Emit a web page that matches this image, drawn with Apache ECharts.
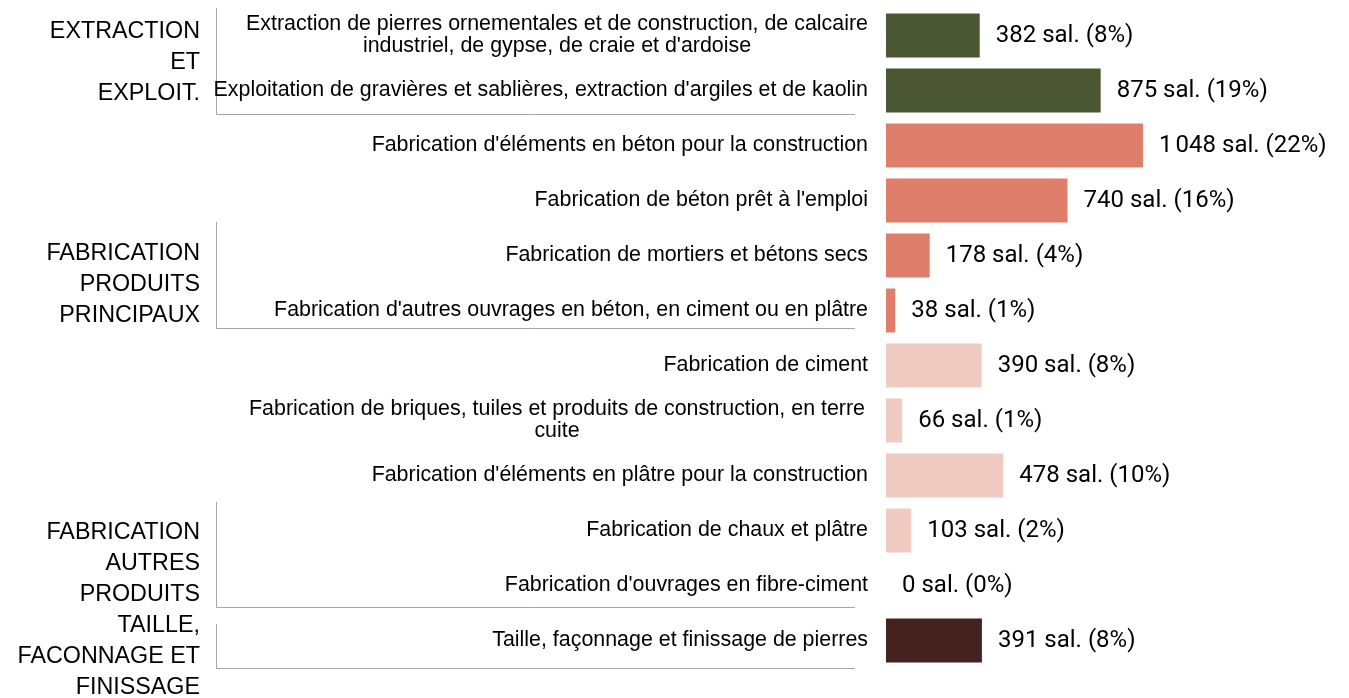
<!DOCTYPE html>
<html>
<head>
<meta charset="utf-8">
<script src="https://cdn.jsdelivr.net/npm/echarts@6/dist/echarts.min.js"></script>
<style>
  html, body { margin: 0; padding: 0; background: #fff; }
  #chart { width: 1349px; height: 698px; }
</style>
</head>
<body>
<div id="chart"></div>
<script>
const categories = [
  "Extraction de pierres ornementales et de construction, de calcaire\nindustriel, de gypse, de craie et d'ardoise",
  "Exploitation de gravières et sablières, extraction d'argiles et de kaolin",
  "Fabrication d'éléments en béton pour la construction",
  "Fabrication de béton prêt à l'emploi",
  "Fabrication de mortiers et bétons secs",
  "Fabrication d'autres ouvrages en béton, en ciment ou en plâtre",
  "Fabrication de ciment",
  "Fabrication de briques, tuiles et produits de construction, en terre\ncuite",
  "Fabrication d'éléments en plâtre pour la construction",
  "Fabrication de chaux et plâtre",
  "Fabrication d'ouvrages en fibre-ciment",
  "Taille, façonnage et finissage de pierres"
];
const values = [382, 875, 1048, 740, 178, 38, 390, 66, 478, 103, 0, 391];
const percents = [8, 19, 22, 16, 4, 1, 8, 1, 10, 2, 0, 8];
const rowGroup = [0, 0, 1, 1, 1, 1, 2, 2, 2, 2, 2, 3];
const groupNames = [
  "EXTRACTION\nET\nEXPLOIT.",
  "FABRICATION\nPRODUITS\nPRINCIPAUX",
  "FABRICATION\nAUTRES\nPRODUITS",
  "TAILLE,\nFACONNAGE ET\nFINISSAGE"
];

const groupColors = ['#4b5733', '#df7e6b', '#f1cbc2', '#432220'];
// bracket decorations (pixel layout, not data): top, bottom of the line, label centre
const groupLayout = [
  { top: 8, bottom: 114, label: 63 },
  { top: 222, bottom: 328, label: 285 },
  { top: 502, bottom: 607, label: 564 },
  { top: 624, bottom: 668, label: 657 }
];

const fmt = (n) => String(n).replace(/\B(?=(\d{3})+(?!\d))/g, '\u202f');
const labelFont = '"Liberation Sans", Arial, sans-serif';

const chart = echarts.init(document.getElementById('chart'));

const graphics = [];
groupNames.forEach((name, i) => {
  const g = groupLayout[i];
  graphics.push({
    type: 'polyline',
    shape: { points: [[216.5, g.top], [216.5, g.bottom + 0.5], [855, g.bottom + 0.5]] },
    style: { stroke: '#a6a6a6', lineWidth: 1, fill: null }
  });
  graphics.push({
    type: 'text',
    x: 200,
    y: g.label,
    style: {
      text: name,
      fill: '#000',
      fontSize: 23.3,
      fontFamily: labelFont,
      align: 'right',
      verticalAlign: 'middle',
      lineHeight: 31
    }
  });
});

chart.setOption({
  animation: false,
  grid: { top: 8, bottom: 30, left: 886, right: 95, containLabel: false },
  xAxis: {
    type: 'value',
    min: 0,
    max: 1500,
    show: false
  },
  yAxis: {
    type: 'category',
    inverse: true,
    data: categories,
    axisLine: { show: false },
    axisTick: { show: false },
    axisLabel: {
      margin: 18,
      color: '#000',
      fontSize: 21.4,
      fontFamily: labelFont,
      lineHeight: 22,
      formatter: (val) => {
        if (val.indexOf('\n') < 0) return val;
        return val.split('\n').map(l => '{w|' + l + '}').join('\n');
      },
      rich: {
        w: {
          width: 622,
          align: 'center',
          fontSize: 21.4,
          lineHeight: 22,
          color: '#000',
          fontFamily: labelFont
        }
      }
    }
  },
  series: [{
    type: 'bar',
    barCategoryGap: '20%',
    data: values.map((v, i) => ({
      value: v,
      itemStyle: { color: groupColors[rowGroup[i]] }
    })),
    label: {
      show: true,
      position: 'right',
      distance: 16,
      color: '#000',
      fontSize: 24,
      fontFamily: 'Roboto, sans-serif',
      formatter: (p) => fmt(p.value) + ' sal. (' + percents[p.dataIndex] + '%)'
    }
  }],
  graphic: graphics
});
</script>
</body>
</html>
